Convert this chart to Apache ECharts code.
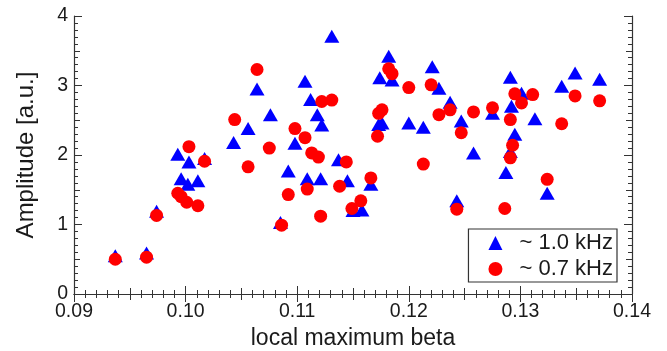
<!DOCTYPE html>
<html>
<head>
<meta charset="utf-8">
<title>Amplitude vs local maximum beta</title>
<script src="https://cdn.jsdelivr.net/npm/echarts@6/dist/echarts.min.js"></script>
<style>
    html, body { margin: 0; padding: 0; background: #fff; }
    #chart { width: 667px; height: 351px; }
</style>
</head>
<body>
<div id="chart"></div>
<script>
    // ~1.0 kHz (blue triangles)
    var beta10 = [0.0937, 0.0965, 0.0974, 0.0993, 0.1003, 0.1017, 0.0996, 0.1002, 0.1011, 0.1043,
                  0.1056, 0.1064, 0.1076, 0.1098, 0.1107, 0.1112, 0.1118, 0.1122, 0.1131, 0.1092,
                  0.1109, 0.1121, 0.1085, 0.1137, 0.1145, 0.1166, 0.1150, 0.1158, 0.1182, 0.1174,
                  0.1185, 0.1173, 0.1176, 0.1200, 0.1213, 0.1221, 0.1227, 0.1237, 0.1247, 0.1243,
                  0.1258, 0.1275, 0.1291, 0.1301, 0.1292, 0.1313, 0.1295, 0.1291, 0.1287, 0.1324,
                  0.1337, 0.1349, 0.1371];
    var amp10  = [0.55, 0.59, 1.19, 2.01, 1.90, 1.95, 1.66, 1.58, 1.63, 2.18,
                  2.38, 2.95, 2.58, 2.17, 3.06, 2.80, 2.58, 2.43, 3.71, 1.77,
                  1.66, 1.66, 1.03, 1.93, 1.63, 1.58, 1.20, 1.21, 3.42, 3.11,
                  3.08, 2.44, 2.46, 2.46, 2.40, 3.27, 2.96, 2.76, 2.49, 1.34,
                  2.03, 2.60, 3.12, 2.89, 2.70, 2.52, 2.30, 2.05, 1.75, 1.45,
                  2.99, 3.18, 3.09];

    // ~0.7 kHz (red circles)
    var beta07 = [0.0937, 0.0965, 0.0974, 0.1003, 0.1017, 0.0993, 0.0996, 0.1001, 0.1011, 0.1044,
                  0.1056, 0.1064, 0.1075, 0.1098, 0.1107, 0.1113, 0.1119, 0.1122, 0.1131, 0.1092,
                  0.1109, 0.1121, 0.1086, 0.1144, 0.1138, 0.1166, 0.1149, 0.1157, 0.1182, 0.1185,
                  0.1176, 0.1173, 0.1172, 0.1200, 0.1220, 0.1213, 0.1227, 0.1237, 0.1247, 0.1243,
                  0.1258, 0.1275, 0.1295, 0.1301, 0.1311, 0.1291, 0.1293, 0.1291, 0.1286, 0.1324,
                  0.1337, 0.1349, 0.1371];
    var amp07  = [0.50, 0.53, 1.13, 2.12, 1.91, 1.45, 1.40, 1.32, 1.27, 2.51,
                  1.83, 3.23, 2.10, 2.38, 2.25, 2.03, 1.97, 2.77, 2.79, 1.43,
                  1.51, 1.12, 0.99, 1.90, 1.55, 1.67, 1.23, 1.34, 3.24, 3.17,
                  2.65, 2.60, 2.27, 2.97, 3.01, 1.87, 2.58, 2.65, 2.32, 1.22,
                  2.62, 2.68, 2.88, 2.75, 2.87, 2.51, 2.14, 1.96, 1.23, 1.65,
                  2.45, 2.85, 2.78];

    var seriesNames = ['~ 1.0 kHz', '~ 0.7 kHz'];
    var xTicks = ['0.09', '0.10', '0.11', '0.12', '0.13', '0.14'];
    var yTicks = ['0', '1', '2', '3', '4'];

    function zip(xs, ys) {
        return xs.map(function (x, i) { return [x, ys[i]]; });
    }

    var frame = '#333';
    var font = '"Liberation Sans", Arial, Helvetica, sans-serif';

    // major+minor ticks axis, or a medium-tick overlay axis
    function xAx(pos, step, tickLen, withLabels, minor) {
        return {
            type: 'value', position: pos,
            min: +xTicks[0], max: +xTicks[xTicks.length - 1], interval: step,
            axisLine: { show: withLabels !== null, lineStyle: { color: frame, width: 1.2 } },
            axisTick: { inside: true, length: tickLen, lineStyle: { color: frame } },
            minorTick: { show: minor, splitNumber: 10, length: 4, lineStyle: { color: frame } },
            axisLabel: {
                show: !!withLabels, margin: 8, color: '#1a1a1a', fontSize: 19.5, fontFamily: font,
                formatter: function (v) { return v.toFixed(2); }
            },
            splitLine: { show: false }
        };
    }
    function yAx(pos, step, tickLen, withLabels, minor) {
        return {
            type: 'value', position: pos,
            min: +yTicks[0], max: +yTicks[yTicks.length - 1], interval: step,
            axisLine: { show: withLabels !== null, lineStyle: { color: frame, width: 1.2 } },
            axisTick: { inside: true, length: tickLen, lineStyle: { color: frame } },
            minorTick: { show: minor, splitNumber: 10, length: 4, lineStyle: { color: frame } },
            axisLabel: { show: !!withLabels, margin: 6, color: '#1a1a1a', fontSize: 19.5, fontFamily: font },
            splitLine: { show: false }
        };
    }

    var xAxes = [
        xAx('bottom', 0.01, 8, true, true),
        xAx('top', 0.01, 8, false, true),
        xAx('bottom', 0.005, 6, null, false),
        xAx('top', 0.005, 6, null, false)
    ];
    xAxes[0].name = 'local maximum beta';
    xAxes[0].nameLocation = 'middle';
    xAxes[0].nameGap = 32;
    xAxes[0].nameTextStyle = { fontSize: 23, color: '#1a1a1a', fontFamily: font };

    var yAxes = [
        yAx('left', 1, 8, true, true),
        yAx('right', 1, 8, false, true),
        yAx('left', 0.5, 6, null, false),
        yAx('right', 0.5, 6, null, false)
    ];
    yAxes[0].name = 'Amplitude [a.u.]';
    yAxes[0].nameLocation = 'middle';
    yAxes[0].nameGap = 36;
    yAxes[0].nameTextStyle = { fontSize: 24, color: '#1a1a1a', fontFamily: font };

    var chart = echarts.init(document.getElementById('chart'));
    chart.setOption({
        animation: false,
        backgroundColor: '#fff',
        grid: { left: 74, right: 35, top: 16, bottom: 57, containLabel: false, outerBoundsMode: 'none' },
        xAxis: xAxes,
        yAxis: yAxes,
        legend: {
            orient: 'vertical',
            right: 50, top: 229,
            padding: [3, 4, 2, 20],
            itemGap: 4,
            itemWidth: 14, itemHeight: 14,
            borderColor: frame, borderWidth: 1.2, borderRadius: 0,
            backgroundColor: '#fff',
            textStyle: { fontSize: 22, color: '#1a1a1a', fontFamily: font, lineHeight: 20, padding: [0, 0, 0, 12] },
            data: seriesNames
        },
        series: [
            {
                name: seriesNames[0], type: 'scatter', symbol: 'triangle', symbolSize: [15, 13],
                itemStyle: { color: '#0000ff', opacity: 1 },
                data: zip(beta10, amp10)
            },
            {
                name: seriesNames[1], type: 'scatter', symbol: 'circle', symbolSize: 13,
                itemStyle: { color: '#ff0000', opacity: 1 },
                data: zip(beta07, amp07)
            }
        ]
    });
</script>
</body>
</html>
